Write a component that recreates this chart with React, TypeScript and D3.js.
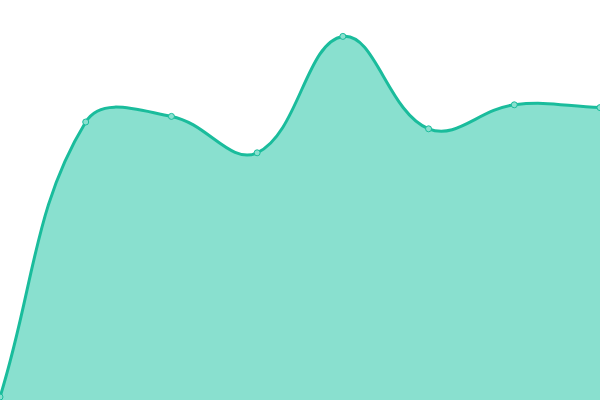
import * as d3 from "d3";

const labels = ["A", "B", "C", "D", "E", "F", "G", "H"];
const values = [0.75, 69.5, 70.9, 61.8, 90.9, 67.8, 73.8, 73.1];

const WIDTH = 600;
const HEIGHT = 400;
const TENSION = 0.4;

// spline like Chart.js (tension scaled by distance to neighbours)
function SplineCurve(this: any, context: any) {
  this._context = context;
}
SplineCurve.prototype = {
  areaStart() {
    this._line = 0;
  },
  areaEnd() {
    this._line = NaN;
  },
  lineStart() {
    this._pts = [];
  },
  lineEnd() {
    const p: [number, number][] = this._pts;
    const c = this._context;
    const n = p.length;
    if (n) {
      if (this._line) c.lineTo(p[0][0], p[0][1]);
      else c.moveTo(p[0][0], p[0][1]);
      const ctrl = p.map((cur, i) => {
        const prev = p[Math.max(i - 1, 0)];
        const next = p[Math.min(i + 1, n - 1)];
        const d01 = Math.hypot(cur[0] - prev[0], cur[1] - prev[1]);
        const d12 = Math.hypot(next[0] - cur[0], next[1] - cur[1]);
        let s01 = d01 / (d01 + d12);
        let s12 = d12 / (d01 + d12);
        if (isNaN(s01)) s01 = 0;
        if (isNaN(s12)) s12 = 0;
        const fa = TENSION * s01;
        const fb = TENSION * s12;
        const clampX = (v: number) => Math.max(0, Math.min(WIDTH, v));
        const clampY = (v: number) => Math.max(0, Math.min(HEIGHT, v));
        return {
          px: clampX(cur[0] - fa * (next[0] - prev[0])),
          py: clampY(cur[1] - fa * (next[1] - prev[1])),
          nx: clampX(cur[0] + fb * (next[0] - prev[0])),
          ny: clampY(cur[1] + fb * (next[1] - prev[1])),
        };
      });
      for (let i = 1; i < n; i++) {
        c.bezierCurveTo(
          ctrl[i - 1].nx,
          ctrl[i - 1].ny,
          ctrl[i].px,
          ctrl[i].py,
          p[i][0],
          p[i][1]
        );
      }
    }
    if (this._line || (this._line !== 0 && n === 1)) c.closePath();
    this._line = 1 - this._line;
  },
  point(x: number, y: number) {
    this._pts.push([+x, +y]);
  },
};
const curveSpline = (context: any) => new (SplineCurve as any)(context);

const App = () => {
  const x = d3.scalePoint<string>().domain(labels).range([0, WIDTH]);
  const y = d3.scaleLinear().domain([0, 100]).range([HEIGHT, 0]);

  const area = d3
    .area<number>()
    .x((d, i) => x(labels[i])!)
    .y0(y(0))
    .y1((d) => y(d))
    .curve(curveSpline as any);

  const line = d3
    .line<number>()
    .x((d, i) => x(labels[i])!)
    .y((d) => y(d))
    .curve(curveSpline as any);

  return (
    <svg
      width={WIDTH}
      height={HEIGHT}
      style={{ position: "absolute", top: 0, left: 0 }}
    >
      <path d={area(values) || ""} fill="#89e0cf" />
      <path
        d={line(values) || ""}
        fill="none"
        stroke="#1abc9c"
        strokeWidth={3}
      />
      {values.map((v, i) => (
        <circle
          key={labels[i]}
          cx={x(labels[i])}
          cy={y(v)}
          r={3}
          fill="#89e0cf"
          stroke="#1abc9c"
          strokeWidth={1}
        />
      ))}
    </svg>
  );
};

export default App;
